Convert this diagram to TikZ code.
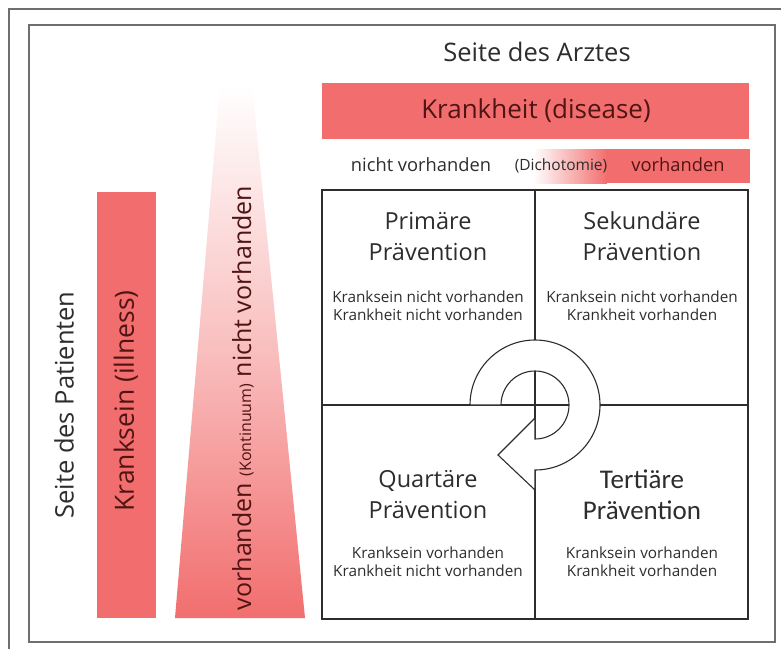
\documentclass[tikz,border=0pt]{standalone}
\usepackage{fontspec}
\usetikzlibrary{calc}
\setmainfont{Open Sans}
\newfontfamily\calfont{Carlito}
\definecolor{redbar}{RGB}{242,110,110}
\definecolor{darkred}{RGB}{80,20,20}
\definecolor{txt}{RGB}{45,45,45}
\definecolor{framegray}{RGB}{110,110,110}
\begin{document}
\begin{tikzpicture}[x=1pt,y=-1pt,
  head/.style={text=txt,font=\fontsize{23.5}{31}\selectfont,align=center,inner sep=0pt},
  small/.style={text=txt,font=\fontsize{15.3}{18}\selectfont,align=center,inner sep=0pt},
  gridline/.style={draw=txt,line width=1.3pt},
  framel/.style={draw=framegray,line width=1.8pt}]
\useasboundingbox (0,0) rectangle (781,648);
\fill[white] (0,0) rectangle (781,648);
% frames
\draw[framel] (9,660) -- (9,9) -- (790,9);
\draw[framel] (29,25) rectangle (775,642);
% title
\node[text=txt,font=\fontsize{25.5}{30}\selectfont,inner sep=0pt] (arzt) at (537,52) {Seite des Arztes};
% Krankheit bar
\fill[redbar] (322,83) rectangle (749,139);
\node[text=darkred,font=\fontsize{26}{30}\selectfont,inner sep=0pt] (disease) at (536,111) {Krankheit (disease)};
% dichotomy row
\shade[left color=white,right color=redbar] (533,149) rectangle (607,183);
\fill[redbar] (606,149) rectangle (750,183);
\node[text=txt,font=\fontsize{18.3}{22}\selectfont,inner sep=0pt] (nv) at (421,165) {nicht vorhanden};
\node[text=txt,font=\fontsize{15.5}{18}\selectfont,inner sep=0pt] (dich) at (561,166) {(Dichotomie)};
\node[text=darkred,font=\fontsize{18.3}{22}\selectfont,inner sep=0pt] (vh) at (678,165) {vorhanden};
% left side
\node[text=txt,font=\fontsize{25.5}{30}\selectfont,inner sep=0pt,rotate=90] (pat) at (64,405) {Seite des Patienten};
\fill[redbar] (97,192) rectangle (156,618);
\node[text=darkred,font=\fontsize{26.5}{30}\selectfont,inner sep=0pt,rotate=90] (illness) at (126,401) {Kranksein (illness)};
% trapezoid
\shade[top color=white,bottom color=redbar,middle color=redbar!45] (220,85) -- (252,85) -- (305,618) -- (175,618) -- cycle;
\node[text=darkred,font=\fontsize{25}{28}\selectfont,inner sep=0pt,rotate=90] (kont) at (243,398) {vorhanden {\fontsize{16}{18}\selectfont(Kontinuum)} nicht vorhanden};
% grid
\draw[gridline] (322,190) rectangle (748,619);
\draw[gridline] (535,190) -- (535,619);
\draw[gridline] (322,405) -- (748,405);
% circular arrow
\coordinate (c) at (535,405);
\draw[gridline,fill=white,line width=1.1pt]
  ($(c)+(-65,0)$) arc[start angle=180,end angle=450,radius=65]
  -- ($(c)+(0,85)$) -- ($(c)+(-37,50)$) -- ($(c)+(0,13)$) -- ($(c)+(0,34)$)
  arc[start angle=90,end angle=-180,radius=34] -- cycle;
\draw[gridline] ($(c)+(-34,0)$) -- ($(c)+(34,0)$);
\draw[gridline] ($(c)+(0,-34)$) -- ($(c)+(0,13)$);
% quadrants
\node[head] (prim) at (428,236) {Primäre\\Prävention};
\node[small] (primt) at (428,306) {Kranksein nicht vorhanden\\Krankheit nicht vorhanden};
\node[head] (sek) at (642,236) {Sekundäre\\Prävention};
\node[small] (sekt) at (642,306) {Kranksein nicht vorhanden\\Krankheit vorhanden};
\node[head] (quart) at (428,495) {Quartäre\\Prävention};
\node[small] (quartt) at (428,562) {Kranksein vorhanden\\Krankheit nicht vorhanden};
\node[head,font=\calfont\fontsize{27}{31}\selectfont] (tert) at (642,495) {Tertiäre\\Prävention};
\node[small] (tertt) at (642,562) {Kranksein vorhanden\\Krankheit vorhanden};
\end{tikzpicture}
\end{document}
